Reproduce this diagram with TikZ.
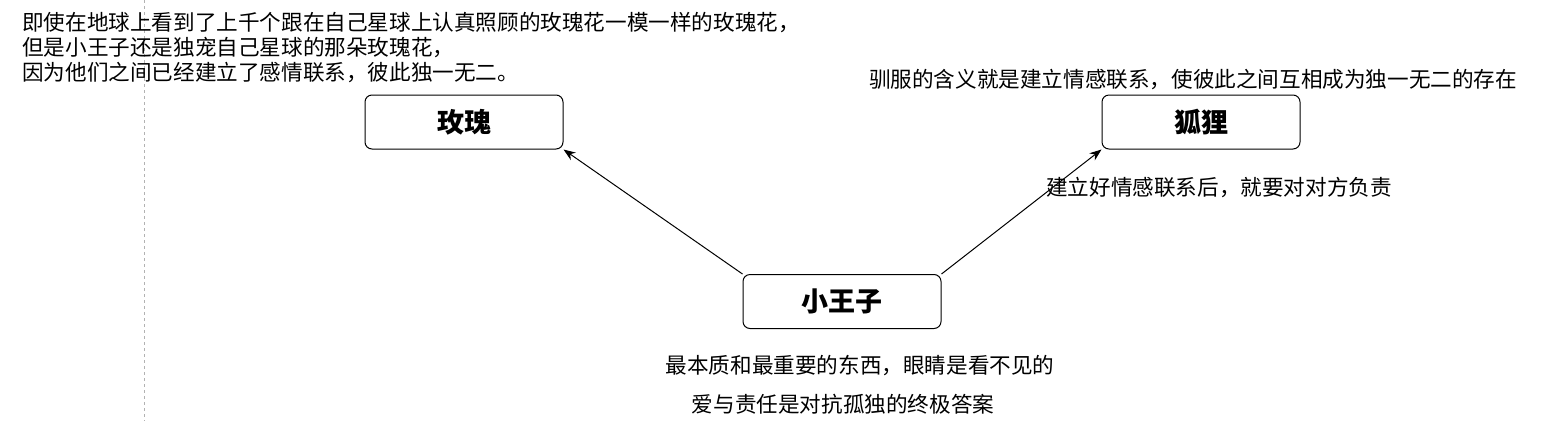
\documentclass[tikz,border=0pt]{standalone}
\usepackage{fontspec}
\newfontfamily\cjk{Noto Sans CJK SC}
\usetikzlibrary{arrows.meta}
\begin{document}
\begin{tikzpicture}[x=1pt,y=-1pt,
  box/.style={draw,rounded corners=7pt,line width=1pt,minimum width=198pt,minimum height=54pt,font=\cjk\bfseries\fontsize{27}{30}\selectfont},
  lbl/.style={font=\cjk\fontsize{21.6}{25}\selectfont,inner sep=0pt},
  arr/.style={-{Stealth[length=12pt,width=9pt]},line width=1pt}]
\useasboundingbox (0,0) rectangle (1565,421);
\draw[dashed,gray!60] (144,0) -- (144,421);
\node[lbl,anchor=north west,align=left] (t1) at (22,12) {即使在地球上看到了上千个跟在自己星球上认真照顾的玫瑰花一模一样的玫瑰花，\\但是小王子还是独宠自己星球的那朵玫瑰花，\\因为他们之间已经建立了感情联系，彼此独一无二。};
\node[box] (rose) at (464,122) {玫瑰};
\node[box] (fox) at (1201,122) {狐狸};
\node[box] (p) at (842,301.5) {小王子};
\draw[arr] (p.north west) -- (rose.south east);
\draw[arr] (p.north east) -- (fox.south west);
\node[lbl] (t2) at (1193,80) {驯服的含义就是建立情感联系，使彼此之间互相成为独一无二的存在};
\node[lbl] (t3) at (1219,188) {建立好情感联系后，就要对对方负责};
\node[lbl] (t4) at (860,366) {最本质和最重要的东西，眼睛是看不见的};
\node[lbl] (t5) at (843,404) {爱与责任是对抗孤独的终极答案};
\end{tikzpicture}
\end{document}
